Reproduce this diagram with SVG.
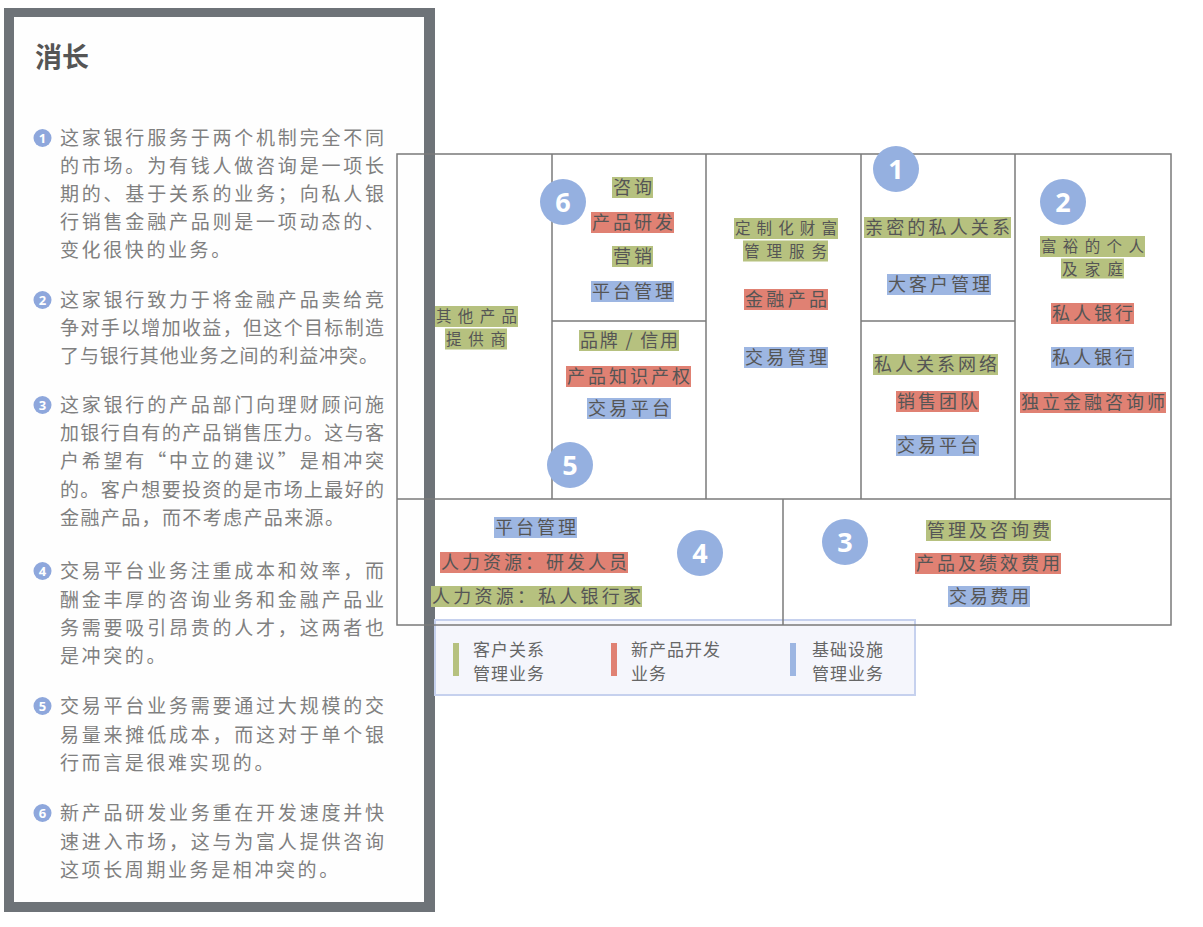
<svg xmlns="http://www.w3.org/2000/svg" width="1203" height="927" viewBox="0 0 1203 927">
<style>
.body{font-family:"Noto Sans CJK SC","Noto Sans",sans-serif;font-size:19px;fill:#808080}
.short{letter-spacing:2.6px}
.lbl{font-family:"Noto Sans CJK SC","Noto Sans",sans-serif;font-size:18px;fill:#555}
.lbl2{font-family:"Noto Sans CJK SC","Noto Sans",sans-serif;font-size:15.5px;fill:#555}
.g{fill:#b6c17f}.r{fill:#e08173}.b{fill:#9db6e2}
.num{fill:#95b0e0}
.numt{font-family:"Open Sans","DejaVu Sans",sans-serif;font-weight:bold;font-size:27px;fill:#fff;text-anchor:middle}
.snum{fill:#8ea7dc}
.snumt{font-family:"Open Sans","DejaVu Sans",sans-serif;font-weight:bold;font-size:13px;fill:#fff;text-anchor:middle}
.grid{stroke:#7a7a7a;stroke-width:1.5;fill:none}
.leg{font-family:"Noto Sans CJK SC","Noto Sans",sans-serif;font-size:17px;fill:#666;letter-spacing:1px}
</style>
<rect x="0" y="0" width="1203" height="927" fill="#fff"/>

<g id="panel">
<rect x="4" y="8" width="431" height="904" fill="#6e7378"/>
<rect x="14" y="17" width="410" height="885" fill="#fefefe"/>
<text x="35" y="67" font-family="Noto Sans CJK SC,sans-serif" font-weight="bold" font-size="27" fill="#555">消长</text>

<circle class="snum" cx="42.5" cy="138" r="9"/><text class="snumt" x="42.5" y="142.5">1</text>
<text class="body" x="60" y="145" textLength="324" lengthAdjust="spacing">这家银行服务于两个机制完全不同</text>
<text class="body" x="60" y="173" textLength="324" lengthAdjust="spacing">的市场。为有钱人做咨询是一项长</text>
<text class="body" x="60" y="201" textLength="324" lengthAdjust="spacing">期的、基于关系的业务；向私人银</text>
<text class="body" x="60" y="229" textLength="324" lengthAdjust="spacing">行销售金融产品则是一项动态的、</text>
<text class="body short" x="60" y="257">变化很快的业务。</text>

<circle class="snum" cx="42.5" cy="300" r="9"/><text class="snumt" x="42.5" y="304.5">2</text>
<text class="body" x="60" y="307" textLength="324" lengthAdjust="spacing">这家银行致力于将金融产品卖给竞</text>
<text class="body" x="60" y="335" textLength="324" lengthAdjust="spacing">争对手以增加收益，但这个目标制造</text>
<text class="body" x="60" y="363" textLength="318" lengthAdjust="spacing">了与银行其他业务之间的利益冲突。</text>

<circle class="snum" cx="42.5" cy="405" r="9"/><text class="snumt" x="42.5" y="409.5">3</text>
<text class="body" x="60" y="412" textLength="324" lengthAdjust="spacing">这家银行的产品部门向理财顾问施</text>
<text class="body" x="60" y="440" textLength="324" lengthAdjust="spacing">加银行自有的产品销售压力。这与客</text>
<text class="body" x="60" y="468" textLength="324" lengthAdjust="spacing">户希望有“中立的建议”是相冲突</text>
<text class="body" x="60" y="497" textLength="324" lengthAdjust="spacing">的。客户想要投资的是市场上最好的</text>
<text class="body" x="60" y="525" textLength="284" lengthAdjust="spacing">金融产品，而不考虑产品来源。</text>

<circle class="snum" cx="42.5" cy="571" r="9"/><text class="snumt" x="42.5" y="575.5">4</text>
<text class="body" x="60" y="578" textLength="324" lengthAdjust="spacing">交易平台业务注重成本和效率，而</text>
<text class="body" x="60" y="607" textLength="324" lengthAdjust="spacing">酬金丰厚的咨询业务和金融产品业</text>
<text class="body" x="60" y="635" textLength="324" lengthAdjust="spacing">务需要吸引昂贵的人才，这两者也</text>
<text class="body short" x="60" y="663">是冲突的。</text>

<circle class="snum" cx="42.5" cy="706" r="9"/><text class="snumt" x="42.5" y="710.5">5</text>
<text class="body" x="60" y="713" textLength="324" lengthAdjust="spacing">交易平台业务需要通过大规模的交</text>
<text class="body" x="60" y="742" textLength="324" lengthAdjust="spacing">易量来摊低成本，而这对于单个银</text>
<text class="body short" x="60" y="770">行而言是很难实现的。</text>

<circle class="snum" cx="42.5" cy="813" r="9"/><text class="snumt" x="42.5" y="817.5">6</text>
<text class="body" x="60" y="820" textLength="324" lengthAdjust="spacing">新产品研发业务重在开发速度并快</text>
<text class="body" x="60" y="849" textLength="324" lengthAdjust="spacing">速进入市场，这与为富人提供咨询</text>
<text class="body short" x="60" y="877">这项长周期业务是相冲突的。</text>
</g>

<g id="legend">
<rect x="435" y="620" width="480" height="75" fill="#f5f6fc" stroke="#c6d1ee" stroke-width="2"/>
<rect class="g" x="453" y="643" width="6" height="33"/>
<text class="leg" x="473" y="656">客户关系<tspan x="473" y="680">管理业务</tspan></text>
<rect class="r" x="611" y="643" width="6" height="33"/>
<text class="leg" x="631" y="656">新产品开发<tspan x="631" y="680">业务</tspan></text>
<rect class="b" x="790" y="643" width="6" height="33"/>
<text class="leg" x="812" y="656">基础设施<tspan x="812" y="680">管理业务</tspan></text>
</g>

<g id="grid">
<rect x="397" y="154" width="774" height="471" fill="#fff" class="grid"/>
<line class="grid" x1="552" y1="154" x2="552" y2="499"/>
<line class="grid" x1="706" y1="154" x2="706" y2="499"/>
<line class="grid" x1="861" y1="154" x2="861" y2="499"/>
<line class="grid" x1="1015" y1="154" x2="1015" y2="499"/>
<line class="grid" x1="552" y1="321" x2="706" y2="321"/>
<line class="grid" x1="861" y1="321" x2="1015" y2="321"/>
<line class="grid" x1="397" y1="499" x2="1171" y2="499"/>
<line class="grid" x1="783" y1="499" x2="783" y2="625"/>
</g>

<g id="key-partners">
<rect class="g" x="435" y="306" width="83" height="21"/>
<rect class="g" x="445" y="328.5" width="62" height="21"/>
<text class="lbl2" x="436" y="322" textLength="81" lengthAdjust="spacing">其他产品</text>
<text class="lbl2" x="446" y="344.5" textLength="60" lengthAdjust="spacing">提供商</text>
</g>

<g id="key-activities">
<rect class="g" x="612" y="177" width="41" height="21"/>
<text class="lbl" x="613" y="194" textLength="39" lengthAdjust="spacing">咨询</text>
<rect class="r" x="591" y="212" width="83" height="21"/>
<text class="lbl" x="592" y="229" textLength="81" lengthAdjust="spacing">产品研发</text>
<rect class="g" x="612" y="246" width="41" height="21"/>
<text class="lbl" x="613" y="263" textLength="39" lengthAdjust="spacing">营销</text>
<rect class="b" x="591" y="281" width="83" height="21"/>
<text class="lbl" x="592" y="298" textLength="81" lengthAdjust="spacing">平台管理</text>
<circle class="num" cx="563" cy="202" r="23"/><text class="numt" x="563" y="212">6</text>
</g>

<g id="key-resources">
<rect class="g" x="579" y="330" width="100" height="21"/>
<text class="lbl" x="580" y="347" textLength="98" lengthAdjust="spacing">品牌 / 信用</text>
<rect class="r" x="566" y="366" width="125" height="21"/>
<text class="lbl" x="567" y="383" textLength="123" lengthAdjust="spacing">产品知识产权</text>
<rect class="b" x="587" y="398" width="84" height="21"/>
<text class="lbl" x="588" y="415" textLength="82" lengthAdjust="spacing">交易平台</text>
<circle class="num" cx="570" cy="465" r="23"/><text class="numt" x="570" y="475">5</text>
</g>

<g id="value-proposition">
<rect class="g" x="734" y="218" width="104" height="21"/>
<rect class="g" x="743" y="240.5" width="85" height="21"/>
<text class="lbl2" x="735" y="234" textLength="102" lengthAdjust="spacing">定制化财富</text>
<text class="lbl2" x="744" y="256.5" textLength="83" lengthAdjust="spacing">管理服务</text>
<rect class="r" x="744" y="289" width="84" height="21"/>
<text class="lbl" x="745" y="306" textLength="82" lengthAdjust="spacing">金融产品</text>
<rect class="b" x="744" y="347" width="84" height="21"/>
<text class="lbl" x="745" y="364" textLength="82" lengthAdjust="spacing">交易管理</text>
</g>

<g id="customer-relationships">
<rect class="g" x="864" y="217" width="147" height="21"/>
<text class="lbl" x="865" y="234" textLength="145" lengthAdjust="spacing">亲密的私人关系</text>
<rect class="b" x="887" y="274" width="104" height="21"/>
<text class="lbl" x="888" y="291" textLength="102" lengthAdjust="spacing">大客户管理</text>
<circle class="num" cx="896" cy="169" r="23"/><text class="numt" x="896" y="179">1</text>
</g>

<g id="channels">
<rect class="g" x="873" y="354" width="125" height="21"/>
<text class="lbl" x="874" y="371" textLength="123" lengthAdjust="spacing">私人关系网络</text>
<rect class="r" x="896" y="391" width="83" height="21"/>
<text class="lbl" x="897" y="408" textLength="81" lengthAdjust="spacing">销售团队</text>
<rect class="b" x="896" y="435" width="83" height="21"/>
<text class="lbl" x="897" y="452" textLength="81" lengthAdjust="spacing">交易平台</text>
</g>

<g id="customer-segments">
<rect class="g" x="1040" y="236" width="105" height="21"/>
<rect class="g" x="1061" y="258.5" width="63" height="20"/>
<text class="lbl2" x="1041" y="252" textLength="103" lengthAdjust="spacing">富裕的个人</text>
<text class="lbl2" x="1062" y="274.5" textLength="61" lengthAdjust="spacing">及家庭</text>
<rect class="r" x="1051" y="303" width="83" height="21"/>
<text class="lbl" x="1052" y="320" textLength="81" lengthAdjust="spacing">私人银行</text>
<rect class="b" x="1051" y="347" width="83" height="21"/>
<text class="lbl" x="1052" y="364" textLength="81" lengthAdjust="spacing">私人银行</text>
<rect class="r" x="1020" y="392" width="146" height="21"/>
<text class="lbl" x="1021" y="409" textLength="144" lengthAdjust="spacing">独立金融咨询师</text>
<circle class="num" cx="1063" cy="202" r="23"/><text class="numt" x="1063" y="212">2</text>
</g>

<g id="cost-structure">
<rect class="b" x="494" y="517" width="83" height="21"/>
<text class="lbl" x="495" y="534" textLength="81" lengthAdjust="spacing">平台管理</text>
<rect class="r" x="440" y="552" width="188" height="21"/>
<text class="lbl" x="441" y="569" textLength="186" lengthAdjust="spacing">人力资源：研发人员</text>
<rect class="g" x="431" y="586" width="211" height="21"/>
<text class="lbl" x="432" y="603" textLength="209" lengthAdjust="spacing">人力资源：私人银行家</text>
<circle class="num" cx="700" cy="553" r="23"/><text class="numt" x="700" y="563">4</text>
</g>

<g id="revenue-streams">
<rect class="g" x="926" y="520" width="125" height="21"/>
<text class="lbl" x="927" y="537" textLength="123" lengthAdjust="spacing">管理及咨询费</text>
<rect class="r" x="915" y="553" width="146" height="21"/>
<text class="lbl" x="916" y="570" textLength="144" lengthAdjust="spacing">产品及绩效费用</text>
<rect class="b" x="948" y="586" width="82" height="21"/>
<text class="lbl" x="949" y="603" textLength="80" lengthAdjust="spacing">交易费用</text>
<circle class="num" cx="845" cy="542" r="23"/><text class="numt" x="845" y="552">3</text>
</g>
</svg>
